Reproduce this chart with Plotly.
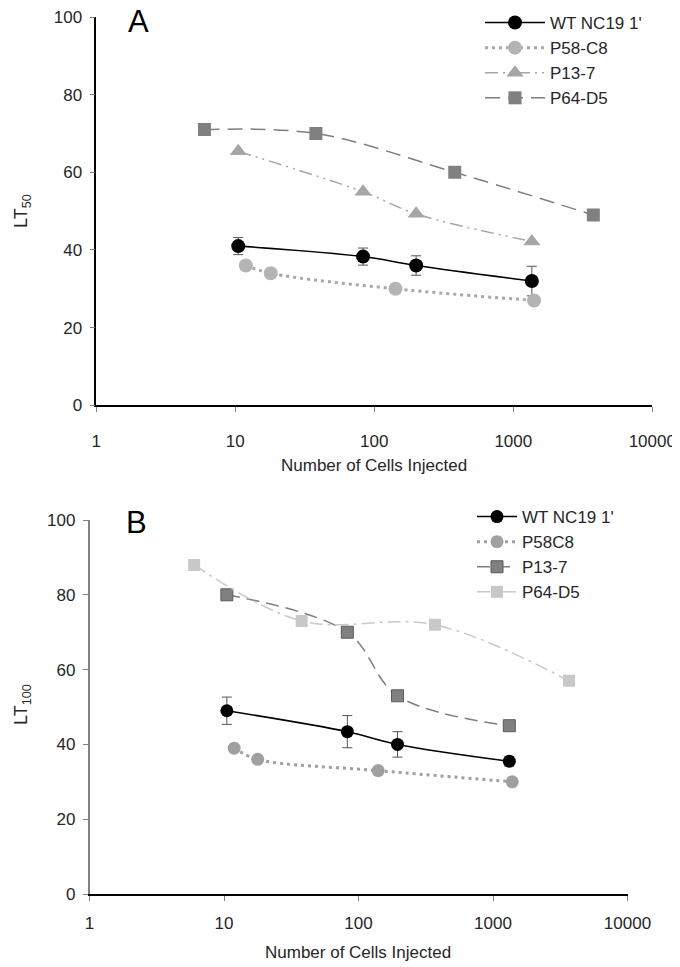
import plotly.graph_objects as go

# ---------------- data ----------------
x_tick_vals = [1, 10, 100, 1000, 10000]
x_tick_text = ["1", "10", "100", "1000", "10000"]
y_tick_vals = [0, 20, 40, 60, 80, 100]

# Panel A (LT50)
a_wt_x = [10.5, 83, 200, 1360]
a_wt_y = [41, 38.3, 36, 32]
a_wt_err = [2.2, 2.2, 2.5, 3.8]
a_p58_x = [11.9, 18, 142, 1410]
a_p58_y = [36, 34, 30, 27]
a_p13_x = [10.5, 83, 200, 1360]
a_p13_y = [65.4, 55, 49.3, 42.2]
a_p64_x = [6, 38, 379, 3765]
a_p64_y = [71, 70, 60, 49]

# Panel B (LT100)
b_wt_x = [10.5, 82.6, 195, 1322]
b_wt_y = [49, 43.4, 40, 35.5]
b_wt_err = [3.65, 4.3, 3.4, 1.3]
b_p58_x = [11.9, 17.8, 140, 1390]
b_p58_y = [39, 36, 33, 30]
b_p13_x = [10.5, 82.6, 195, 1322]
b_p13_y = [80, 70, 53, 45]
b_p64_x = [6, 37.8, 370, 3673]
b_p64_y = [88, 73, 72, 57]

FONT = "Liberation Sans, Arial, sans-serif"
TXT = "#262626"

fig = go.Figure()

# ---------------- panel A ----------------
fig.add_trace(go.Scatter(
    x=a_wt_x, y=a_wt_y, name="WT NC19 1'", mode="lines+markers",
    line=dict(color="black", width=1.5, shape="spline", smoothing=1),
    marker=dict(symbol="circle", size=14, color="black"),
    error_y=dict(type="data", array=a_wt_err, color="#555555", thickness=1, width=5),
    xaxis="x", yaxis="y", legend="legend"))
fig.add_trace(go.Scatter(
    x=a_p58_x, y=a_p58_y, name="P58-C8", mode="lines+markers",
    line=dict(color="#a8a8a8", width=3, dash="3px,4px", shape="spline", smoothing=1),
    marker=dict(symbol="circle", size=14, color="#b4b4b4"),
    xaxis="x", yaxis="y", legend="legend"))
fig.add_trace(go.Scatter(
    x=a_p13_x, y=a_p13_y, name="P13-7", mode="lines+markers",
    line=dict(color="#a6a6a6", width=1.5, dash="13px,5px,2px,5px,2px,5px", shape="spline", smoothing=1),
    marker=dict(symbol="triangle-up", size=15, color="#a6a6a6"),
    xaxis="x", yaxis="y", legend="legend"))
fig.add_trace(go.Scatter(
    x=a_p64_x, y=a_p64_y, name="P64-D5", mode="lines+markers",
    line=dict(color="#7f7f7f", width=1.5, dash="15px,8px", shape="spline", smoothing=1),
    marker=dict(symbol="square", size=13, color="#808080"),
    xaxis="x", yaxis="y", legend="legend"))

# ---------------- panel B ----------------
fig.add_trace(go.Scatter(
    x=b_wt_x, y=b_wt_y, name="WT NC19 1'", mode="lines+markers",
    line=dict(color="black", width=1.5, shape="spline", smoothing=1),
    marker=dict(symbol="circle", size=13, color="black"),
    error_y=dict(type="data", array=b_wt_err, color="#555555", thickness=1, width=5),
    xaxis="x2", yaxis="y2", legend="legend2"))
fig.add_trace(go.Scatter(
    x=b_p58_x, y=b_p58_y, name="P58C8", mode="lines+markers",
    line=dict(color="#a0a0a0", width=3, dash="3px,4px", shape="spline", smoothing=1),
    marker=dict(symbol="circle", size=13, color="#a0a0a0"),
    xaxis="x2", yaxis="y2", legend="legend2"))
fig.add_trace(go.Scatter(
    x=b_p13_x, y=b_p13_y, name="P13-7", mode="lines+markers",
    line=dict(color="#7f7f7f", width=1.5, dash="13px,7px", shape="spline", smoothing=1),
    marker=dict(symbol="square", size=12, color="#808080", line=dict(color="#5a5a5a", width=1)),
    xaxis="x2", yaxis="y2", legend="legend2"))
fig.add_trace(go.Scatter(
    x=b_p64_x, y=b_p64_y, name="P64-D5", mode="lines+markers",
    line=dict(color="#c8c8c8", width=1.5, dash="13px,5px,3px,5px", shape="spline", smoothing=1),
    marker=dict(symbol="square", size=12, color="#c8c8c8"),
    xaxis="x2", yaxis="y2", legend="legend2"))

W, H = 680, 967
OFF = 8  # page body margin


def px_x(v):
    return (v - OFF) / W


def px_y(v):
    return 1 - (v - OFF) / H


xcommon = dict(type="log", range=[0, 4], tickvals=x_tick_vals, ticktext=x_tick_text,
               showgrid=False, zeroline=False, showline=True, linecolor="black", linewidth=1.5,
               ticks="outside", ticklen=5, tickcolor="#808080", ticklabeloverflow="allow",
               automargin=False, tickfont=dict(family=FONT, size=17, color=TXT))
ycommon = dict(range=[0, 100], tickvals=y_tick_vals, showgrid=False, zeroline=False,
               showline=True, linewidth=1.5, ticks="outside", ticklen=5, tickcolor="#808080",
               ticklabelstandoff=4, ticklabeloverflow="allow", automargin=False,
               tickfont=dict(family=FONT, size=17, color=TXT))

ann = dict(xref="paper", yref="paper", xanchor="center", yanchor="middle", showarrow=False)

fig.update_layout(
    width=W, height=H, margin=dict(l=0, r=0, t=0, b=0, autoexpand=False),
    paper_bgcolor="white", plot_bgcolor="white",
    xaxis=dict(domain=[px_x(96.3), px_x(652.3)], anchor="y", ticklabelstandoff=15, **xcommon),
    yaxis=dict(domain=[px_y(405.3), px_y(17)], anchor="x", linecolor="black", **ycommon),
    xaxis2=dict(domain=[px_x(89.5), px_x(627.5)], anchor="y2", ticklabelstandoff=8, **xcommon),
    yaxis2=dict(domain=[px_y(894), px_y(520)], anchor="x2", linecolor="#808080", **ycommon),
    legend=dict(x=px_x(480), y=px_y(5), xanchor="left", yanchor="top",
                font=dict(family=FONT, size=17, color=TXT), bgcolor="rgba(0,0,0,0)",
                itemwidth=60, tracegroupgap=0),
    legend2=dict(x=px_x(472), y=px_y(499), xanchor="left", yanchor="top",
                 font=dict(family=FONT, size=17, color=TXT), bgcolor="rgba(0,0,0,0)",
                 itemwidth=40, tracegroupgap=0),
    showlegend=True,
    annotations=[
        dict(text="A", x=px_x(138), y=px_y(21), font=dict(family=FONT, size=31, color="black"), **ann),
        dict(text="B", x=px_x(136), y=px_y(522), font=dict(family=FONT, size=31, color="black"), **ann),
        dict(text="Number of Cells Injected", x=px_x(374), y=px_y(466),
             font=dict(family=FONT, size=17, color=TXT), **ann),
        dict(text="Number of Cells Injected", x=px_x(358), y=px_y(952),
             font=dict(family=FONT, size=17, color=TXT), **ann),
        dict(text="LT<sub>50</sub>", x=px_x(22), y=px_y(211), textangle=-90,
             font=dict(family=FONT, size=18, color=TXT), **ann),
        dict(text="LT<sub>100</sub>", x=px_x(22), y=px_y(705), textangle=-90,
             font=dict(family=FONT, size=18, color=TXT), **ann),
    ],
)

fig.write_html("out.html")
